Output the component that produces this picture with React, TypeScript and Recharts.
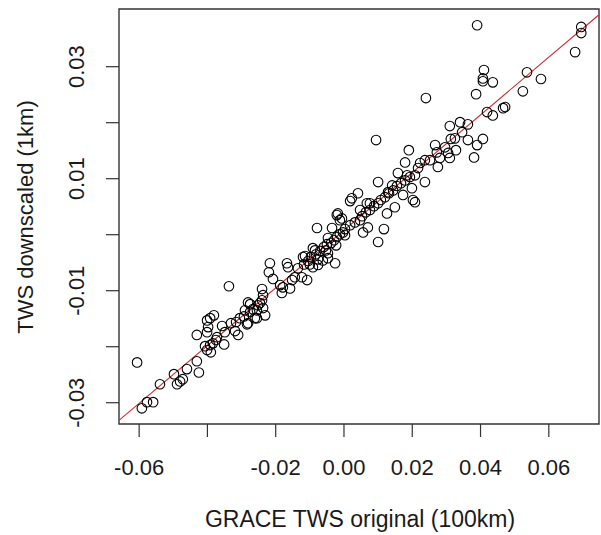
import { ScatterChart, Scatter, XAxis, YAxis, ReferenceArea, ReferenceLine } from "recharts"

// GRACE TWS original (100km), x
const graceOriginal = [
    -0.0606, -0.0592, -0.0577, -0.0559, -0.0539, -0.0498, -0.0489, -0.048, -0.0472, -0.046,
    -0.0431, -0.0425, -0.0431, -0.0407, -0.0401, -0.039, -0.0401, -0.0398, -0.0401, -0.0392,
    -0.0381, -0.0357, -0.0349, -0.0351, -0.0337, -0.0331, -0.0319, -0.031, -0.0284, -0.029,
    -0.0281, -0.0275, -0.0255, -0.0255, -0.024, -0.0237, -0.0237, -0.0231, -0.0261, -0.0281,
    -0.0372, -0.024, -0.0217, -0.022, -0.0208, -0.0187, -0.0182, -0.0179, -0.0167, -0.0164,
    -0.0158, -0.0152, -0.0144, -0.0123, -0.012, -0.0108, -0.0091, -0.0085, -0.0079, -0.0062,
    -0.0047, -0.0035, -0.0026, -0.0021, -0.0012, -0.0006, 0.0018, -0.0076, -0.0091, -0.0047,
    -0.0047, -0.0114, -0.0135, -0.0117, -0.0105, -0.0097, -0.0082, -0.007, -0.0059, -0.005,
    -0.0038, -0.0029, -0.0021, -0.0012, -0.0003, 0.0003, -0.0023, -0.0053, -0.0076, -0.01,
    -0.0305, -0.0293, -0.0275, -0.0267, -0.0252, -0.0246, -0.0316, -0.0392, -0.0384, -0.0375,
    0.0067, 0.0047, 0.0126, 0.0149, 0.0208, 0.0117, 0.01, 0.0056, 0.007, 0.0047,
    0.0003, -0.0018, 0.0023, 0.0041, 0.0076, 0.01, 0.0129, 0.0141, 0.0158, 0.0173,
    0.0179, 0.0185, 0.0199, 0.0202, 0.0208, 0.0217, 0.0223, 0.0237, 0.0094, 0.019,
    0.024, 0.0252, 0.0267, 0.0272, 0.0275, 0.0281, 0.0305, 0.031, 0.0328, 0.031,
    0.0313, 0.034, 0.0363, 0.0363, 0.0381, 0.039, 0.0407, 0.0387, 0.039, 0.041,
    0.0407, 0.0407, 0.0436, 0.0419, 0.0436, 0.0466, 0.0472, 0.0524, 0.0536, 0.0577,
    0.0677, 0.0695, 0.0695, 0.0018, 0.0032, 0.0053, 0.0064, 0.0076, 0.0088, 0.01,
    0.0108, 0.012, 0.0132, 0.0144, 0.0155, 0.0167, 0.0179, 0.0193, 0.0237, 0.0296,
    0.0325, 0.0346,
]

// TWS downscaled (1km), y
const twsDownscaled = [
    -0.0228, -0.031, -0.0299, -0.0299, -0.0267, -0.0249, -0.0267, -0.0262, -0.0258, -0.024,
    -0.0226, -0.0246, -0.0179, -0.0199, -0.0206, -0.021, -0.0174, -0.0165, -0.0153, -0.0149,
    -0.0144, -0.0163, -0.0174, -0.0196, -0.0092, -0.0158, -0.0172, -0.0179, -0.016, -0.0135,
    -0.0121, -0.0124, -0.0149, -0.0135, -0.0097, -0.0108, -0.0131, -0.0144, -0.0149, -0.0158,
    -0.0183, -0.0117, -0.0051, -0.0067, -0.0079, -0.009, -0.0104, -0.0094, -0.0051, -0.0058,
    -0.0096, -0.0081, -0.0076, -0.0076, -0.004, -0.0081, -0.0058, -0.0028, 0.0012, -0.0046,
    -0.0042, 0.0012, -0.0051, 0.0035, 0.0026, 0.0029, 0.006, -0.0054, -0.0024, -0.0006,
    -0.0033, -0.0038, -0.006, -0.0053, -0.0047, -0.004, -0.0035, -0.0029, -0.0022, -0.0017,
    -0.0015, -0.001, -0.0004, 0.0001, 0.0004, 0.001, -0.0019, -0.0028, -0.0044, -0.0053,
    -0.0149, -0.0146, -0.0138, -0.0133, -0.0126, -0.0122, -0.0156, -0.0197, -0.0194, -0.0188,
    0.0056, 0.0044, 0.0038, 0.0049, 0.0058, 0.001, -0.0013, 0.0004, 0.0013, 0.0026,
    -0.0001, 0.0038, 0.0065, 0.0074, 0.0056, 0.0094, 0.0076, 0.0088, 0.011, 0.0071,
    0.0129, 0.0106, 0.0083, 0.0062, 0.0106, 0.0119, 0.0128, 0.0094, 0.0169, 0.0151,
    0.0244, 0.0133, 0.016, 0.0147, 0.0121, 0.0137, 0.0146, 0.0137, 0.0151, 0.0194,
    0.0171, 0.0201, 0.0197, 0.0169, 0.0138, 0.016, 0.0171, 0.0251, 0.0374, 0.0294,
    0.0279, 0.0274, 0.0272, 0.0219, 0.0213, 0.0226, 0.0228, 0.0256, 0.029, 0.0278,
    0.0326, 0.0371, 0.036, 0.0017, 0.0022, 0.0033, 0.004, 0.0044, 0.0051, 0.0056,
    0.0062, 0.0067, 0.0074, 0.0079, 0.0087, 0.0092, 0.0097, 0.0103, 0.0133, 0.0156,
    0.0172, 0.0183,
]

const xTicks = [-0.06, -0.04, -0.02, 0, 0.02, 0.04, 0.06]
const xTickLabels = ["-0.06", "", "-0.02", "0.00", "0.02", "0.04", "0.06"]
const yTicks = [-0.03, -0.02, -0.01, 0, 0.01, 0.02, 0.03]
const yTickLabels = ["-0.03", "", "-0.01", "", "0.01", "", "0.03"]

// fitted line (abline)
const fitIntercept = 0.0008
const fitSlope = 0.515

const xDomain = [-0.0659, 0.0747]
const yDomain = [-0.0338, 0.0403]

const points = graceOriginal.map((x, i) => ({ x, y: twsDownscaled[i] }))

const font = "'Liberation Sans', Arial, sans-serif"
const ink = "#1a1a1a"

function labelFor(ticks: number[], labels: string[], v: number) {
    const i = ticks.findIndex((t) => Math.abs(t - v) < 1e-9)
    return i >= 0 ? labels[i] : ""
}

function XTick(props: any) {
    const { x, y, payload } = props
    return (
        <text x={x} y={y + 28} textAnchor="middle" dominantBaseline="central" fontFamily={font} fontSize={22} fill={ink}>
            {labelFor(xTicks, xTickLabels, payload.value)}
        </text>
    )
}

function YTick(props: any) {
    const { x, y, payload } = props
    const cx = x - 27
    return (
        <text
            x={cx}
            y={y}
            transform={`rotate(-90, ${cx}, ${y})`}
            textAnchor="middle"
            dominantBaseline="central"
            fontFamily={font}
            fontSize={22}
            fill={ink}
        >
            {labelFor(yTicks, yTickLabels, payload.value)}
        </text>
    )
}

function Ring(props: any) {
    return <circle cx={props.cx} cy={props.cy} r={4.8} fill="none" stroke="#000" strokeWidth={1.1} />
}

export default function App() {
    return (
        <div style={{ position: "absolute", left: 0, top: 0, width: 601, height: 535, background: "#fff" }}>
            <ScatterChart width={601} height={535} margin={{ top: 9, right: 2, bottom: 0, left: 0 }}>
                <XAxis
                    type="number"
                    dataKey="x"
                    domain={xDomain}
                    ticks={xTicks}
                    allowDataOverflow
                    height={111}
                    tickSize={13}
                    tickLine={{ stroke: "#333", strokeWidth: 1.2 }}
                    axisLine={false}
                    tick={<XTick />}
                    interval={0}
                    label={() => (
                        <text x={360} y={519} textAnchor="middle" dominantBaseline="central" fontFamily={font} fontSize={23} fill={ink}>
                            GRACE TWS original (100km)
                        </text>
                    )}
                />
                <YAxis
                    type="number"
                    dataKey="y"
                    domain={yDomain}
                    ticks={yTicks}
                    allowDataOverflow
                    width={119}
                    tickSize={13}
                    tickLine={{ stroke: "#333", strokeWidth: 1.2 }}
                    axisLine={false}
                    tick={<YTick />}
                    interval={0}
                    label={() => (
                        <text
                            x={25}
                            y={217}
                            transform="rotate(-90, 25, 217)"
                            textAnchor="middle"
                            dominantBaseline="central"
                            fontFamily={font}
                            fontSize={22}
                            fill={ink}
                        >
                            TWS downscaled (1km)
                        </text>
                    )}
                />
                <ReferenceArea
                    x1={xDomain[0]}
                    x2={xDomain[1]}
                    y1={yDomain[0]}
                    y2={yDomain[1]}
                    fill="none"
                    fillOpacity={0}
                    stroke="#333"
                    strokeWidth={1.4}
                />
                <Scatter data={points} shape={<Ring />} isAnimationActive={false} />
                <ReferenceLine
                    segment={[
                        { x: xDomain[0], y: fitIntercept + fitSlope * xDomain[0] },
                        { x: xDomain[1], y: fitIntercept + fitSlope * xDomain[1] },
                    ]}
                    stroke="#d02a2a"
                    strokeWidth={1.1}
                />
            </ScatterChart>
        </div>
    )
}
